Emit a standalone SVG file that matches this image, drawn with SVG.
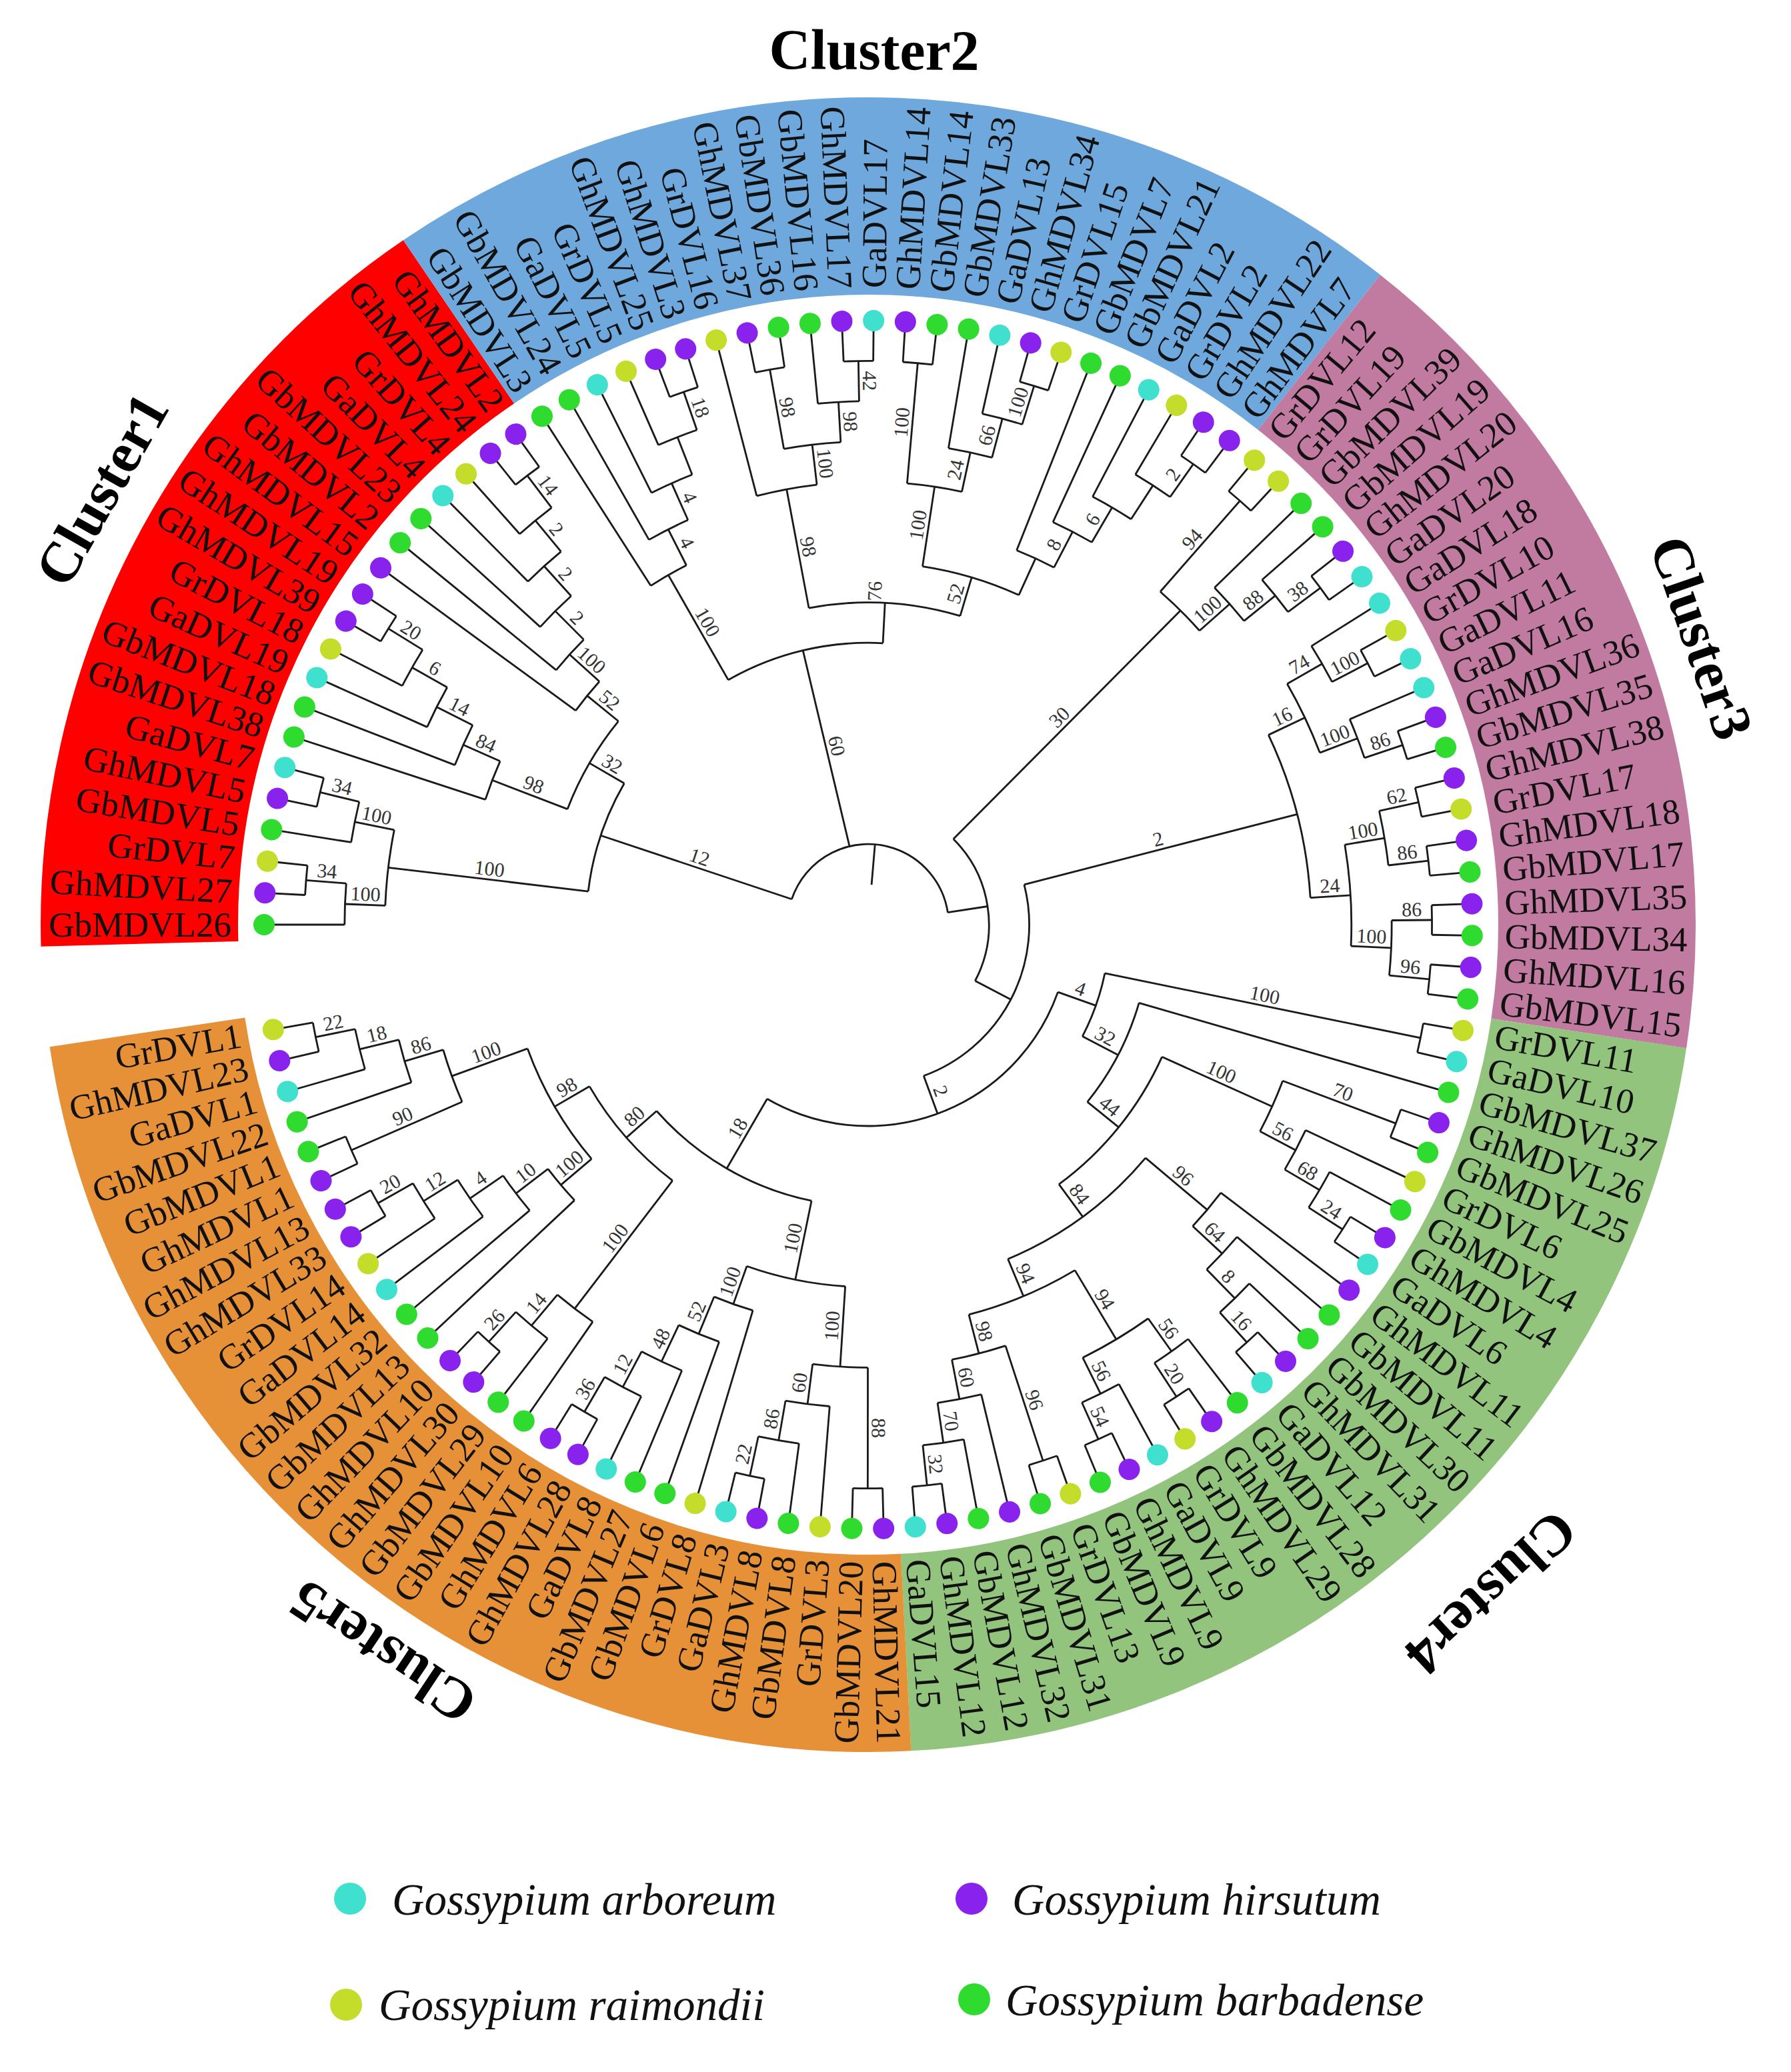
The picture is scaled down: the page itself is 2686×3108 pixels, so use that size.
<svg xmlns="http://www.w3.org/2000/svg" width="2686" height="3108" viewBox="0 0 2686 3108">
<style>
.r{transform:translate(1302px,1387px) rotate(calc(180deg + (var(--u) - 1) * 3.017241deg))}
.bl{transform:translate(1302px,1387px) rotate(calc(180deg + (var(--u) - 1) * 3.017241deg)) translate(calc(var(--m) * 1px),0px) rotate(180deg)}
.br{transform:translate(1302px,1387px) rotate(calc(180deg + (var(--u) - 1) * 3.017241deg)) translate(calc(var(--m) * 1px),0px)}
#bands circle{fill:none;stroke-width:296}
#connectors path,#connectors circle{fill:none;stroke:#1a1a1a;stroke-width:2.8}
#bootstrap text{font-family:"Liberation Serif",serif;font-size:30px;fill:#333;text-anchor:middle}
#leaves text{font-family:"Liberation Serif",serif;font-size:53px;fill:#111;dominant-baseline:central}
#leaves .L{text-anchor:end}
#leaves .R{text-anchor:start}
#legend text{font-family:"Liberation Serif",serif;font-style:italic;font-size:67px;fill:#111}
.ga{fill:#40E0CF}.gh{fill:#8A22EE}.gr{fill:#C3DD2A}.gb{fill:#2EDB2E}
.title{font-family:"Liberation Serif",serif;font-weight:bold;font-size:86px;fill:#000;text-anchor:middle;dominant-baseline:central}
</style>
<rect width="2686" height="3108" fill="#fff"/>
<g id="bands">
<circle class="r" style="--u:0.5" r="1093" stroke="#FF0000" stroke-dasharray="19 999" pathLength="119.3143"/>
<circle class="r" style="--u:19.5" r="1093" stroke="#6FA8DC" stroke-dasharray="24 999" pathLength="119.3143"/>
<circle class="r" style="--u:43.5" r="1093" stroke="#C27BA0" stroke-dasharray="20 999" pathLength="119.3143"/>
<circle class="r" style="--u:63.5" r="1093" stroke="#93C47D" stroke-dasharray="26 999" pathLength="119.3143"/>
<circle class="r" style="--u:89.5" r="1093" stroke="#E69138" stroke-dasharray="28 999" pathLength="119.3143"/>
</g>
<g id="titles">
<text class="title" transform="translate(1302 1387) rotate(209.6) translate(1322 0) rotate(90)">Cluster1</text>
<text class="title" transform="translate(1302 1387) rotate(270.4) translate(1312 0) rotate(90)">Cluster2</text>
<text class="title" transform="translate(1302 1387) rotate(341) translate(1322 0) rotate(90)">Cluster3</text>
<text class="title" transform="translate(1302 1387) rotate(47) translate(1370 0) rotate(90)">Cluster4</text>
<text class="title" transform="translate(1302 1387) rotate(123.7) translate(1312 0) rotate(90)">Cluster5</text>
</g>
<g id="connectors">
<circle class="r" style="--u:2" r="845.6" stroke-dasharray="1 999" pathLength="119.3143"/><path class="r" style="--u:2.5" d="M785.2 0H845.6"/>
<circle class="r" style="--u:1" r="785.2" stroke-dasharray="1.5 999" pathLength="119.3143"/><path class="r" style="--u:1.75" d="M724.8 0H785.2"/>
<circle class="r" style="--u:5" r="845.6" stroke-dasharray="1 999" pathLength="119.3143"/><path class="r" style="--u:5.5" d="M785.2 0H845.6"/>
<circle class="r" style="--u:4" r="785.2" stroke-dasharray="1.5 999" pathLength="119.3143"/><path class="r" style="--u:4.75" d="M724.8 0H785.2"/>
<circle class="r" style="--u:1.75" r="724.8" stroke-dasharray="3 999" pathLength="119.3143"/><path class="r" style="--u:3.25" d="M422.8 0H724.8"/>
<circle class="r" style="--u:11" r="845.6" stroke-dasharray="1 999" pathLength="119.3143"/><path class="r" style="--u:11.5" d="M785.2 0H845.6"/>
<circle class="r" style="--u:10" r="785.2" stroke-dasharray="1.5 999" pathLength="119.3143"/><path class="r" style="--u:10.75" d="M724.8 0H785.2"/>
<circle class="r" style="--u:9" r="724.8" stroke-dasharray="1.75 999" pathLength="119.3143"/><path class="r" style="--u:9.875" d="M664.4 0H724.8"/>
<circle class="r" style="--u:8" r="664.4" stroke-dasharray="1.875 999" pathLength="119.3143"/><path class="r" style="--u:8.9375" d="M604 0H664.4"/>
<circle class="r" style="--u:7" r="604" stroke-dasharray="1.9375 999" pathLength="119.3143"/><path class="r" style="--u:7.96875" d="M483.2 0H604"/>
<circle class="r" style="--u:18" r="845.6" stroke-dasharray="1 999" pathLength="119.3143"/><path class="r" style="--u:18.5" d="M785.2 0H845.6"/>
<circle class="r" style="--u:17" r="785.2" stroke-dasharray="1.5 999" pathLength="119.3143"/><path class="r" style="--u:17.75" d="M724.8 0H785.2"/>
<circle class="r" style="--u:16" r="724.8" stroke-dasharray="1.75 999" pathLength="119.3143"/><path class="r" style="--u:16.875" d="M664.4 0H724.8"/>
<circle class="r" style="--u:15" r="664.4" stroke-dasharray="1.875 999" pathLength="119.3143"/><path class="r" style="--u:15.9375" d="M604 0H664.4"/>
<circle class="r" style="--u:14" r="604" stroke-dasharray="1.9375 999" pathLength="119.3143"/><path class="r" style="--u:14.96875" d="M543.6 0H604"/>
<circle class="r" style="--u:13" r="543.6" stroke-dasharray="1.96875 999" pathLength="119.3143"/><path class="r" style="--u:13.984375" d="M483.2 0H543.6"/>
<circle class="r" style="--u:7.96875" r="483.2" stroke-dasharray="6.015625 999" pathLength="119.3143"/><path class="r" style="--u:10.9765625" d="M422.8 0H483.2"/>
<circle class="r" style="--u:3.25" r="422.8" stroke-dasharray="7.7265625 999" pathLength="119.3143"/><path class="r" style="--u:7.11328" d="M120.8 0H422.8"/>
<circle class="r" style="--u:24" r="845.6" stroke-dasharray="1 999" pathLength="119.3143"/><path class="r" style="--u:24.5" d="M785.2 0H845.6"/>
<circle class="r" style="--u:23" r="785.2" stroke-dasharray="1.5 999" pathLength="119.3143"/><path class="r" style="--u:23.75" d="M724.8 0H785.2"/>
<circle class="r" style="--u:22" r="724.8" stroke-dasharray="1.75 999" pathLength="119.3143"/><path class="r" style="--u:22.875" d="M664.4 0H724.8"/>
<circle class="r" style="--u:21" r="664.4" stroke-dasharray="1.875 999" pathLength="119.3143"/><path class="r" style="--u:21.9375" d="M604 0H664.4"/>
<circle class="r" style="--u:20" r="604" stroke-dasharray="1.9375 999" pathLength="119.3143"/><path class="r" style="--u:20.96875" d="M422.8 0H604"/>
<circle class="r" style="--u:27" r="845.6" stroke-dasharray="1 999" pathLength="119.3143"/><path class="r" style="--u:27.5" d="M724.8 0H845.6"/>
<circle class="r" style="--u:30" r="845.6" stroke-dasharray="1 999" pathLength="119.3143"/><path class="r" style="--u:30.5" d="M785.2 0H845.6"/>
<circle class="r" style="--u:29" r="785.2" stroke-dasharray="1.5 999" pathLength="119.3143"/><path class="r" style="--u:29.75" d="M724.8 0H785.2"/>
<circle class="r" style="--u:27.5" r="724.8" stroke-dasharray="2.25 999" pathLength="119.3143"/><path class="r" style="--u:28.625" d="M664.4 0H724.8"/>
<circle class="r" style="--u:26" r="664.4" stroke-dasharray="2.625 999" pathLength="119.3143"/><path class="r" style="--u:27.3125" d="M483.2 0H664.4"/>
<circle class="r" style="--u:32" r="845.6" stroke-dasharray="1 999" pathLength="119.3143"/><path class="r" style="--u:32.5" d="M664.4 0H845.6"/>
<circle class="r" style="--u:36" r="845.6" stroke-dasharray="1 999" pathLength="119.3143"/><path class="r" style="--u:36.5" d="M785.2 0H845.6"/>
<circle class="r" style="--u:35" r="785.2" stroke-dasharray="1.5 999" pathLength="119.3143"/><path class="r" style="--u:35.75" d="M724.8 0H785.2"/>
<circle class="r" style="--u:34" r="724.8" stroke-dasharray="1.75 999" pathLength="119.3143"/><path class="r" style="--u:34.875" d="M664.4 0H724.8"/>
<circle class="r" style="--u:32.5" r="664.4" stroke-dasharray="2.375 999" pathLength="119.3143"/><path class="r" style="--u:33.6875" d="M543.6 0H664.4"/>
<circle class="r" style="--u:42" r="845.6" stroke-dasharray="1 999" pathLength="119.3143"/><path class="r" style="--u:42.5" d="M785.2 0H845.6"/>
<circle class="r" style="--u:41" r="785.2" stroke-dasharray="1.5 999" pathLength="119.3143"/><path class="r" style="--u:41.75" d="M724.8 0H785.2"/>
<circle class="r" style="--u:40" r="724.8" stroke-dasharray="1.75 999" pathLength="119.3143"/><path class="r" style="--u:40.875" d="M664.4 0H724.8"/>
<circle class="r" style="--u:39" r="664.4" stroke-dasharray="1.875 999" pathLength="119.3143"/><path class="r" style="--u:39.9375" d="M604 0H664.4"/>
<circle class="r" style="--u:38" r="604" stroke-dasharray="1.9375 999" pathLength="119.3143"/><path class="r" style="--u:38.96875" d="M543.6 0H604"/>
<circle class="r" style="--u:33.6875" r="543.6" stroke-dasharray="5.28125 999" pathLength="119.3143"/><path class="r" style="--u:36.328125" d="M483.2 0H543.6"/>
<circle class="r" style="--u:27.3125" r="483.2" stroke-dasharray="9.015625 999" pathLength="119.3143"/><path class="r" style="--u:31.8203125" d="M422.8 0H483.2"/>
<circle class="r" style="--u:20.96875" r="422.8" stroke-dasharray="10.8515625 999" pathLength="119.3143"/><path class="r" style="--u:26.39453" d="M120.8 0H422.8"/>
<circle class="r" style="--u:44" r="845.6" stroke-dasharray="1 999" pathLength="119.3143"/><path class="r" style="--u:44.5" d="M664.4 0H845.6"/>
<circle class="r" style="--u:48" r="845.6" stroke-dasharray="1 999" pathLength="119.3143"/><path class="r" style="--u:48.5" d="M785.2 0H845.6"/>
<circle class="r" style="--u:47" r="785.2" stroke-dasharray="1.5 999" pathLength="119.3143"/><path class="r" style="--u:47.75" d="M724.8 0H785.2"/>
<circle class="r" style="--u:46" r="724.8" stroke-dasharray="1.75 999" pathLength="119.3143"/><path class="r" style="--u:46.875" d="M664.4 0H724.8"/>
<circle class="r" style="--u:44.5" r="664.4" stroke-dasharray="2.375 999" pathLength="119.3143"/><path class="r" style="--u:45.6875" d="M181.2 0H664.4"/>
<circle class="r" style="--u:51" r="845.6" stroke-dasharray="1 999" pathLength="119.3143"/><path class="r" style="--u:51.5" d="M785.2 0H845.6"/>
<circle class="r" style="--u:50" r="785.2" stroke-dasharray="1.5 999" pathLength="119.3143"/><path class="r" style="--u:50.75" d="M724.8 0H785.2"/>
<circle class="r" style="--u:54" r="845.6" stroke-dasharray="1 999" pathLength="119.3143"/><path class="r" style="--u:54.5" d="M785.2 0H845.6"/>
<circle class="r" style="--u:53" r="785.2" stroke-dasharray="1.5 999" pathLength="119.3143"/><path class="r" style="--u:53.75" d="M724.8 0H785.2"/>
<circle class="r" style="--u:50.75" r="724.8" stroke-dasharray="3 999" pathLength="119.3143"/><path class="r" style="--u:52.25" d="M664.4 0H724.8"/>
<circle class="r" style="--u:56" r="845.6" stroke-dasharray="1 999" pathLength="119.3143"/><path class="r" style="--u:56.5" d="M785.2 0H845.6"/>
<circle class="r" style="--u:58" r="845.6" stroke-dasharray="1 999" pathLength="119.3143"/><path class="r" style="--u:58.5" d="M785.2 0H845.6"/>
<circle class="r" style="--u:56.5" r="785.2" stroke-dasharray="2 999" pathLength="119.3143"/><path class="r" style="--u:57.5" d="M724.8 0H785.2"/>
<circle class="r" style="--u:60" r="845.6" stroke-dasharray="1 999" pathLength="119.3143"/><path class="r" style="--u:60.5" d="M785.2 0H845.6"/>
<circle class="r" style="--u:62" r="845.6" stroke-dasharray="1 999" pathLength="119.3143"/><path class="r" style="--u:62.5" d="M785.2 0H845.6"/>
<circle class="r" style="--u:60.5" r="785.2" stroke-dasharray="2 999" pathLength="119.3143"/><path class="r" style="--u:61.5" d="M724.8 0H785.2"/>
<circle class="r" style="--u:57.5" r="724.8" stroke-dasharray="4 999" pathLength="119.3143"/><path class="r" style="--u:59.5" d="M664.4 0H724.8"/>
<circle class="r" style="--u:52.25" r="664.4" stroke-dasharray="7.25 999" pathLength="119.3143"/><path class="r" style="--u:55.875" d="M241.6 0H664.4"/>
<circle class="r" style="--u:64" r="845.6" stroke-dasharray="1 999" pathLength="119.3143"/><path class="r" style="--u:64.5" d="M362.4 0H845.6"/>
<circle class="r" style="--u:67" r="845.6" stroke-dasharray="1 999" pathLength="119.3143"/><path class="r" style="--u:67.5" d="M664.4 0H845.6"/>
<circle class="r" style="--u:71" r="845.6" stroke-dasharray="1 999" pathLength="119.3143"/><path class="r" style="--u:71.5" d="M785.2 0H845.6"/>
<circle class="r" style="--u:70" r="785.2" stroke-dasharray="1.5 999" pathLength="119.3143"/><path class="r" style="--u:70.75" d="M724.8 0H785.2"/>
<circle class="r" style="--u:69" r="724.8" stroke-dasharray="1.75 999" pathLength="119.3143"/><path class="r" style="--u:69.875" d="M664.4 0H724.8"/>
<circle class="r" style="--u:67.5" r="664.4" stroke-dasharray="2.375 999" pathLength="119.3143"/><path class="r" style="--u:68.6875" d="M483.2 0H664.4"/>
<circle class="r" style="--u:76" r="845.6" stroke-dasharray="1 999" pathLength="119.3143"/><path class="r" style="--u:76.5" d="M785.2 0H845.6"/>
<circle class="r" style="--u:75" r="785.2" stroke-dasharray="1.5 999" pathLength="119.3143"/><path class="r" style="--u:75.75" d="M724.8 0H785.2"/>
<circle class="r" style="--u:74" r="724.8" stroke-dasharray="1.75 999" pathLength="119.3143"/><path class="r" style="--u:74.875" d="M664.4 0H724.8"/>
<circle class="r" style="--u:73" r="664.4" stroke-dasharray="1.875 999" pathLength="119.3143"/><path class="r" style="--u:73.9375" d="M543.6 0H664.4"/>
<circle class="r" style="--u:79" r="845.6" stroke-dasharray="1 999" pathLength="119.3143"/><path class="r" style="--u:79.5" d="M785.2 0H845.6"/>
<circle class="r" style="--u:78" r="785.2" stroke-dasharray="1.5 999" pathLength="119.3143"/><path class="r" style="--u:78.75" d="M724.8 0H785.2"/>
<circle class="r" style="--u:82" r="845.6" stroke-dasharray="1 999" pathLength="119.3143"/><path class="r" style="--u:82.5" d="M785.2 0H845.6"/>
<circle class="r" style="--u:81" r="785.2" stroke-dasharray="1.5 999" pathLength="119.3143"/><path class="r" style="--u:81.75" d="M724.8 0H785.2"/>
<circle class="r" style="--u:78.75" r="724.8" stroke-dasharray="3 999" pathLength="119.3143"/><path class="r" style="--u:80.25" d="M604 0H724.8"/>
<circle class="r" style="--u:84" r="845.6" stroke-dasharray="1 999" pathLength="119.3143"/><path class="r" style="--u:84.5" d="M664.4 0H845.6"/>
<circle class="r" style="--u:88" r="845.6" stroke-dasharray="1 999" pathLength="119.3143"/><path class="r" style="--u:88.5" d="M785.2 0H845.6"/>
<circle class="r" style="--u:87" r="785.2" stroke-dasharray="1.5 999" pathLength="119.3143"/><path class="r" style="--u:87.75" d="M724.8 0H785.2"/>
<circle class="r" style="--u:86" r="724.8" stroke-dasharray="1.75 999" pathLength="119.3143"/><path class="r" style="--u:86.875" d="M664.4 0H724.8"/>
<circle class="r" style="--u:84.5" r="664.4" stroke-dasharray="2.375 999" pathLength="119.3143"/><path class="r" style="--u:85.6875" d="M604 0H664.4"/>
<circle class="r" style="--u:80.25" r="604" stroke-dasharray="5.4375 999" pathLength="119.3143"/><path class="r" style="--u:82.96875" d="M543.6 0H604"/>
<circle class="r" style="--u:73.9375" r="543.6" stroke-dasharray="9.03125 999" pathLength="119.3143"/><path class="r" style="--u:78.453125" d="M483.2 0H543.6"/>
<circle class="r" style="--u:68.6875" r="483.2" stroke-dasharray="9.765625 999" pathLength="119.3143"/><path class="r" style="--u:73.5703125" d="M422.8 0H483.2"/>
<circle class="r" style="--u:66" r="422.8" stroke-dasharray="7.5703125 999" pathLength="119.3143"/><path class="r" style="--u:69.78515625" d="M362.4 0H422.8"/>
<circle class="r" style="--u:64.5" r="362.4" stroke-dasharray="5.28515625 999" pathLength="119.3143"/><path class="r" style="--u:67.142578" d="M302 0H362.4"/>
<circle class="r" style="--u:90" r="845.6" stroke-dasharray="1 999" pathLength="119.3143"/><path class="r" style="--u:90.5" d="M664.4 0H845.6"/>
<circle class="r" style="--u:94" r="845.6" stroke-dasharray="1 999" pathLength="119.3143"/><path class="r" style="--u:94.5" d="M785.2 0H845.6"/>
<circle class="r" style="--u:93" r="785.2" stroke-dasharray="1.5 999" pathLength="119.3143"/><path class="r" style="--u:93.75" d="M724.8 0H785.2"/>
<circle class="r" style="--u:92" r="724.8" stroke-dasharray="1.75 999" pathLength="119.3143"/><path class="r" style="--u:92.875" d="M664.4 0H724.8"/>
<circle class="r" style="--u:90.5" r="664.4" stroke-dasharray="2.375 999" pathLength="119.3143"/><path class="r" style="--u:91.6875" d="M543.6 0H664.4"/>
<circle class="r" style="--u:100" r="845.6" stroke-dasharray="1 999" pathLength="119.3143"/><path class="r" style="--u:100.5" d="M785.2 0H845.6"/>
<circle class="r" style="--u:99" r="785.2" stroke-dasharray="1.5 999" pathLength="119.3143"/><path class="r" style="--u:99.75" d="M724.8 0H785.2"/>
<circle class="r" style="--u:98" r="724.8" stroke-dasharray="1.75 999" pathLength="119.3143"/><path class="r" style="--u:98.875" d="M664.4 0H724.8"/>
<circle class="r" style="--u:97" r="664.4" stroke-dasharray="1.875 999" pathLength="119.3143"/><path class="r" style="--u:97.9375" d="M604 0H664.4"/>
<circle class="r" style="--u:96" r="604" stroke-dasharray="1.9375 999" pathLength="119.3143"/><path class="r" style="--u:96.96875" d="M543.6 0H604"/>
<circle class="r" style="--u:91.6875" r="543.6" stroke-dasharray="5.28125 999" pathLength="119.3143"/><path class="r" style="--u:94.328125" d="M422.8 0H543.6"/>
<circle class="r" style="--u:104" r="845.6" stroke-dasharray="1 999" pathLength="119.3143"/><path class="r" style="--u:104.5" d="M785.2 0H845.6"/>
<circle class="r" style="--u:103" r="785.2" stroke-dasharray="1.5 999" pathLength="119.3143"/><path class="r" style="--u:103.75" d="M724.8 0H785.2"/>
<circle class="r" style="--u:102" r="724.8" stroke-dasharray="1.75 999" pathLength="119.3143"/><path class="r" style="--u:102.875" d="M483.2 0H724.8"/>
<circle class="r" style="--u:110" r="845.6" stroke-dasharray="1 999" pathLength="119.3143"/><path class="r" style="--u:110.5" d="M785.2 0H845.6"/>
<circle class="r" style="--u:109" r="785.2" stroke-dasharray="1.5 999" pathLength="119.3143"/><path class="r" style="--u:109.75" d="M724.8 0H785.2"/>
<circle class="r" style="--u:108" r="724.8" stroke-dasharray="1.75 999" pathLength="119.3143"/><path class="r" style="--u:108.875" d="M664.4 0H724.8"/>
<circle class="r" style="--u:107" r="664.4" stroke-dasharray="1.875 999" pathLength="119.3143"/><path class="r" style="--u:107.9375" d="M604 0H664.4"/>
<circle class="r" style="--u:106" r="604" stroke-dasharray="1.9375 999" pathLength="119.3143"/><path class="r" style="--u:106.96875" d="M543.6 0H604"/>
<circle class="r" style="--u:112" r="845.6" stroke-dasharray="1 999" pathLength="119.3143"/><path class="r" style="--u:112.5" d="M664.4 0H845.6"/>
<circle class="r" style="--u:116" r="845.6" stroke-dasharray="1 999" pathLength="119.3143"/><path class="r" style="--u:116.5" d="M785.2 0H845.6"/>
<circle class="r" style="--u:115" r="785.2" stroke-dasharray="1.5 999" pathLength="119.3143"/><path class="r" style="--u:115.75" d="M724.8 0H785.2"/>
<circle class="r" style="--u:114" r="724.8" stroke-dasharray="1.75 999" pathLength="119.3143"/><path class="r" style="--u:114.875" d="M664.4 0H724.8"/>
<circle class="r" style="--u:112.5" r="664.4" stroke-dasharray="2.375 999" pathLength="119.3143"/><path class="r" style="--u:113.6875" d="M543.6 0H664.4"/>
<circle class="r" style="--u:106.96875" r="543.6" stroke-dasharray="6.71875 999" pathLength="119.3143"/><path class="r" style="--u:110.328125" d="M483.2 0H543.6"/>
<circle class="r" style="--u:102.875" r="483.2" stroke-dasharray="7.453125 999" pathLength="119.3143"/><path class="r" style="--u:106.6015625" d="M422.8 0H483.2"/>
<circle class="r" style="--u:94.328125" r="422.8" stroke-dasharray="12.2734375 999" pathLength="119.3143"/><path class="r" style="--u:100.46484" d="M302 0H422.8"/>
<circle class="r" style="--u:67.142578" r="302" stroke-dasharray="33.322262 999" pathLength="119.3143"/><path class="r" style="--u:83.80371" d="M241.6 0H302"/>
<circle class="r" style="--u:55.875" r="241.6" stroke-dasharray="27.92871 999" pathLength="119.3143"/><path class="r" style="--u:69.83936" d="M181.2 0H241.6"/>
<circle class="r" style="--u:45.6875" r="181.2" stroke-dasharray="24.15186 999" pathLength="119.3143"/><path class="r" style="--u:57.76343" d="M120.8 0H181.2"/>
<circle class="r" style="--u:7.11328" r="120.8" stroke-dasharray="50.65015 999" pathLength="119.3143"/><path class="r" style="--u:32.43835" d="M60 0H120.8"/>
<path class="r" style="--u:1" d="M785.2 0H906"/><path class="r" style="--u:2" d="M845.6 0H906"/><path class="r" style="--u:3" d="M845.6 0H906"/><path class="r" style="--u:4" d="M785.2 0H906"/><path class="r" style="--u:5" d="M845.6 0H906"/><path class="r" style="--u:6" d="M845.6 0H906"/><path class="r" style="--u:7" d="M604 0H906"/><path class="r" style="--u:8" d="M664.4 0H906"/><path class="r" style="--u:9" d="M724.8 0H906"/><path class="r" style="--u:10" d="M785.2 0H906"/>
<path class="r" style="--u:11" d="M845.6 0H906"/><path class="r" style="--u:12" d="M845.6 0H906"/><path class="r" style="--u:13" d="M543.6 0H906"/><path class="r" style="--u:14" d="M604 0H906"/><path class="r" style="--u:15" d="M664.4 0H906"/><path class="r" style="--u:16" d="M724.8 0H906"/><path class="r" style="--u:17" d="M785.2 0H906"/><path class="r" style="--u:18" d="M845.6 0H906"/><path class="r" style="--u:19" d="M845.6 0H906"/><path class="r" style="--u:20" d="M604 0H906"/>
<path class="r" style="--u:21" d="M664.4 0H906"/><path class="r" style="--u:22" d="M724.8 0H906"/><path class="r" style="--u:23" d="M785.2 0H906"/><path class="r" style="--u:24" d="M845.6 0H906"/><path class="r" style="--u:25" d="M845.6 0H906"/><path class="r" style="--u:26" d="M664.4 0H906"/><path class="r" style="--u:27" d="M845.6 0H906"/><path class="r" style="--u:28" d="M845.6 0H906"/><path class="r" style="--u:29" d="M785.2 0H906"/><path class="r" style="--u:30" d="M845.6 0H906"/>
<path class="r" style="--u:31" d="M845.6 0H906"/><path class="r" style="--u:32" d="M845.6 0H906"/><path class="r" style="--u:33" d="M845.6 0H906"/><path class="r" style="--u:34" d="M724.8 0H906"/><path class="r" style="--u:35" d="M785.2 0H906"/><path class="r" style="--u:36" d="M845.6 0H906"/><path class="r" style="--u:37" d="M845.6 0H906"/><path class="r" style="--u:38" d="M604 0H906"/><path class="r" style="--u:39" d="M664.4 0H906"/><path class="r" style="--u:40" d="M724.8 0H906"/>
<path class="r" style="--u:41" d="M785.2 0H906"/><path class="r" style="--u:42" d="M845.6 0H906"/><path class="r" style="--u:43" d="M845.6 0H906"/><path class="r" style="--u:44" d="M845.6 0H906"/><path class="r" style="--u:45" d="M845.6 0H906"/><path class="r" style="--u:46" d="M724.8 0H906"/><path class="r" style="--u:47" d="M785.2 0H906"/><path class="r" style="--u:48" d="M845.6 0H906"/><path class="r" style="--u:49" d="M845.6 0H906"/><path class="r" style="--u:50" d="M785.2 0H906"/>
<path class="r" style="--u:51" d="M845.6 0H906"/><path class="r" style="--u:52" d="M845.6 0H906"/><path class="r" style="--u:53" d="M785.2 0H906"/><path class="r" style="--u:54" d="M845.6 0H906"/><path class="r" style="--u:55" d="M845.6 0H906"/><path class="r" style="--u:56" d="M845.6 0H906"/><path class="r" style="--u:57" d="M845.6 0H906"/><path class="r" style="--u:58" d="M845.6 0H906"/><path class="r" style="--u:59" d="M845.6 0H906"/><path class="r" style="--u:60" d="M845.6 0H906"/>
<path class="r" style="--u:61" d="M845.6 0H906"/><path class="r" style="--u:62" d="M845.6 0H906"/><path class="r" style="--u:63" d="M845.6 0H906"/><path class="r" style="--u:64" d="M845.6 0H906"/><path class="r" style="--u:65" d="M845.6 0H906"/><path class="r" style="--u:66" d="M422.8 0H906"/><path class="r" style="--u:67" d="M845.6 0H906"/><path class="r" style="--u:68" d="M845.6 0H906"/><path class="r" style="--u:69" d="M724.8 0H906"/><path class="r" style="--u:70" d="M785.2 0H906"/>
<path class="r" style="--u:71" d="M845.6 0H906"/><path class="r" style="--u:72" d="M845.6 0H906"/><path class="r" style="--u:73" d="M664.4 0H906"/><path class="r" style="--u:74" d="M724.8 0H906"/><path class="r" style="--u:75" d="M785.2 0H906"/><path class="r" style="--u:76" d="M845.6 0H906"/><path class="r" style="--u:77" d="M845.6 0H906"/><path class="r" style="--u:78" d="M785.2 0H906"/><path class="r" style="--u:79" d="M845.6 0H906"/><path class="r" style="--u:80" d="M845.6 0H906"/>
<path class="r" style="--u:81" d="M785.2 0H906"/><path class="r" style="--u:82" d="M845.6 0H906"/><path class="r" style="--u:83" d="M845.6 0H906"/><path class="r" style="--u:84" d="M845.6 0H906"/><path class="r" style="--u:85" d="M845.6 0H906"/><path class="r" style="--u:86" d="M724.8 0H906"/><path class="r" style="--u:87" d="M785.2 0H906"/><path class="r" style="--u:88" d="M845.6 0H906"/><path class="r" style="--u:89" d="M845.6 0H906"/><path class="r" style="--u:90" d="M845.6 0H906"/>
<path class="r" style="--u:91" d="M845.6 0H906"/><path class="r" style="--u:92" d="M724.8 0H906"/><path class="r" style="--u:93" d="M785.2 0H906"/><path class="r" style="--u:94" d="M845.6 0H906"/><path class="r" style="--u:95" d="M845.6 0H906"/><path class="r" style="--u:96" d="M604 0H906"/><path class="r" style="--u:97" d="M664.4 0H906"/><path class="r" style="--u:98" d="M724.8 0H906"/><path class="r" style="--u:99" d="M785.2 0H906"/><path class="r" style="--u:100" d="M845.6 0H906"/>
<path class="r" style="--u:101" d="M845.6 0H906"/><path class="r" style="--u:102" d="M724.8 0H906"/><path class="r" style="--u:103" d="M785.2 0H906"/><path class="r" style="--u:104" d="M845.6 0H906"/><path class="r" style="--u:105" d="M845.6 0H906"/><path class="r" style="--u:106" d="M604 0H906"/><path class="r" style="--u:107" d="M664.4 0H906"/><path class="r" style="--u:108" d="M724.8 0H906"/><path class="r" style="--u:109" d="M785.2 0H906"/><path class="r" style="--u:110" d="M845.6 0H906"/>
<path class="r" style="--u:111" d="M845.6 0H906"/><path class="r" style="--u:112" d="M845.6 0H906"/><path class="r" style="--u:113" d="M845.6 0H906"/><path class="r" style="--u:114" d="M724.8 0H906"/><path class="r" style="--u:115" d="M785.2 0H906"/><path class="r" style="--u:116" d="M845.6 0H906"/><path class="r" style="--u:117" d="M845.6 0H906"/>
</g>
<g id="bootstrap">
<text class="bl" style="--u:2.5;--m:815.4" y="-6">34</text>
<text class="bl" style="--u:1.75;--m:755" y="-6">100</text>
<text class="bl" style="--u:5.5;--m:815.4" y="-6">34</text>
<text class="bl" style="--u:4.75;--m:755" y="-6">100</text>
<text class="bl" style="--u:3.25;--m:573.8" y="-6">100</text>
<text class="bl" style="--u:11.5;--m:815.4" y="-6">20</text>
<text class="bl" style="--u:10.75;--m:755" y="-6">6</text>
<text class="bl" style="--u:9.875;--m:694.6" y="-6">14</text>
<text class="bl" style="--u:8.9375;--m:634.2" y="-6">84</text>
<text class="bl" style="--u:7.96875;--m:543.6" y="-6">98</text>
<text class="bl" style="--u:18.5;--m:815.4" y="-6">14</text>
<text class="bl" style="--u:17.75;--m:755" y="-6">2</text>
<text class="bl" style="--u:16.875;--m:694.6" y="-6">2</text>
<text class="bl" style="--u:15.9375;--m:634.2" y="-6">2</text>
<text class="bl" style="--u:14.96875;--m:573.8" y="-6">100</text>
<text class="bl" style="--u:13.984375;--m:513.4" y="-6">52</text>
<text class="bl" style="--u:10.9765625;--m:453" y="-6">32</text>
<text class="bl" style="--u:7.11328;--m:271.8" y="-6">12</text>
<text class="bl" style="--u:24.5;--m:815.4" y="-6">18</text>
<text class="bl" style="--u:22.875;--m:694.6" y="-6">4</text>
<text class="bl" style="--u:21.9375;--m:634.2" y="-6">4</text>
<text class="bl" style="--u:20.96875;--m:513.4" y="-6">100</text>
<text class="bl" style="--u:27.5;--m:785.2" y="-6">98</text>
<text class="bl" style="--u:30.5;--m:815.4" y="-6">42</text>
<text class="bl" style="--u:29.75;--m:755" y="-6">98</text>
<text class="bl" style="--u:28.625;--m:694.6" y="-6">100</text>
<text class="bl" style="--u:27.3125;--m:573.8" y="-6">98</text>
<text class="br" style="--u:32.5;--m:755" y="-6">100</text>
<text class="br" style="--u:36.5;--m:815.4" y="-6">100</text>
<text class="br" style="--u:35.75;--m:755" y="-6">66</text>
<text class="br" style="--u:34.875;--m:694.6" y="-6">24</text>
<text class="br" style="--u:33.6875;--m:604" y="-6">100</text>
<text class="br" style="--u:42.5;--m:815.4" y="-6">2</text>
<text class="br" style="--u:40.875;--m:694.6" y="-6">6</text>
<text class="br" style="--u:39.9375;--m:634.2" y="-6">8</text>
<text class="br" style="--u:36.328125;--m:513.4" y="-6">52</text>
<text class="br" style="--u:31.8203125;--m:500" y="-6">76</text>
<text class="bl" style="--u:26.39453;--m:271.8" y="-6">60</text>
<text class="br" style="--u:44.5;--m:755" y="-6">94</text>
<text class="br" style="--u:48.5;--m:815.4" y="-6">38</text>
<text class="br" style="--u:47.75;--m:755" y="-6">88</text>
<text class="br" style="--u:46.875;--m:694.6" y="-6">100</text>
<text class="br" style="--u:45.6875;--m:422.8" y="-6">30</text>
<text class="br" style="--u:51.5;--m:815.4" y="-6">100</text>
<text class="br" style="--u:50.75;--m:755" y="-6">74</text>
<text class="br" style="--u:54.5;--m:815.4" y="-6">86</text>
<text class="br" style="--u:53.75;--m:755" y="-6">100</text>
<text class="br" style="--u:52.25;--m:694.6" y="-6">16</text>
<text class="br" style="--u:56.5;--m:815.4" y="-6">62</text>
<text class="br" style="--u:58.5;--m:815.4" y="-6">86</text>
<text class="br" style="--u:57.5;--m:755" y="-6">100</text>
<text class="br" style="--u:60.5;--m:815.4" y="-6">86</text>
<text class="br" style="--u:62.5;--m:815.4" y="-6">96</text>
<text class="br" style="--u:61.5;--m:755" y="-6">100</text>
<text class="br" style="--u:59.5;--m:694.6" y="-6">24</text>
<text class="br" style="--u:55.875;--m:453" y="-6">2</text>
<text class="br" style="--u:64.5;--m:604" y="-6">100</text>
<text class="br" style="--u:67.5;--m:755" y="-6">70</text>
<text class="br" style="--u:71.5;--m:815.4" y="-6">24</text>
<text class="br" style="--u:70.75;--m:755" y="-6">68</text>
<text class="br" style="--u:69.875;--m:694.6" y="-6">56</text>
<text class="br" style="--u:68.6875;--m:573.8" y="-6">100</text>
<text class="br" style="--u:76.5;--m:815.4" y="-6">16</text>
<text class="br" style="--u:75.75;--m:755" y="-6">8</text>
<text class="br" style="--u:74.875;--m:694.6" y="-6">64</text>
<text class="br" style="--u:73.9375;--m:604" y="-6">96</text>
<text class="br" style="--u:79.5;--m:815.4" y="-6">20</text>
<text class="br" style="--u:78.75;--m:755" y="-6">56</text>
<text class="br" style="--u:82.5;--m:815.4" y="-6">54</text>
<text class="br" style="--u:81.75;--m:755" y="-6">56</text>
<text class="br" style="--u:80.25;--m:664.4" y="-6">94</text>
<text class="br" style="--u:84.5;--m:755" y="-6">96</text>
<text class="br" style="--u:88.5;--m:815.4" y="-6">32</text>
<text class="br" style="--u:87.75;--m:755" y="-6">70</text>
<text class="br" style="--u:86.875;--m:694.6" y="-6">60</text>
<text class="br" style="--u:85.6875;--m:634.2" y="-6">98</text>
<text class="br" style="--u:82.96875;--m:573.8" y="-6">94</text>
<text class="br" style="--u:78.453125;--m:513.4" y="-6">84</text>
<text class="br" style="--u:73.5703125;--m:453" y="-6">44</text>
<text class="br" style="--u:69.78515625;--m:392.6" y="-6">32</text>
<text class="br" style="--u:67.142578;--m:332.2" y="-6">4</text>
<text class="br" style="--u:90.5;--m:755" y="-6">88</text>
<text class="bl" style="--u:94.5;--m:815.4" y="-6">22</text>
<text class="bl" style="--u:93.75;--m:755" y="-6">86</text>
<text class="bl" style="--u:92.875;--m:694.6" y="-6">60</text>
<text class="bl" style="--u:91.6875;--m:604" y="-6">100</text>
<text class="bl" style="--u:100.5;--m:815.4" y="-6">36</text>
<text class="bl" style="--u:99.75;--m:755" y="-6">12</text>
<text class="bl" style="--u:98.875;--m:694.6" y="-6">48</text>
<text class="bl" style="--u:97.9375;--m:634.2" y="-6">52</text>
<text class="bl" style="--u:96.96875;--m:573.8" y="-6">100</text>
<text class="bl" style="--u:94.328125;--m:483.2" y="-6">100</text>
<text class="bl" style="--u:104.5;--m:815.4" y="-6">26</text>
<text class="bl" style="--u:103.75;--m:755" y="-6">14</text>
<text class="bl" style="--u:102.875;--m:604" y="-6">100</text>
<text class="bl" style="--u:110.5;--m:815.4" y="-6">20</text>
<text class="bl" style="--u:109.75;--m:755" y="-6">12</text>
<text class="bl" style="--u:108.875;--m:694.6" y="-6">4</text>
<text class="bl" style="--u:107.9375;--m:634.2" y="-6">10</text>
<text class="bl" style="--u:106.96875;--m:573.8" y="-6">100</text>
<text class="bl" style="--u:112.5;--m:755" y="-6">90</text>
<text class="bl" style="--u:116.5;--m:815.4" y="-6">22</text>
<text class="bl" style="--u:115.75;--m:755" y="-6">18</text>
<text class="bl" style="--u:114.875;--m:694.6" y="-6">86</text>
<text class="bl" style="--u:113.6875;--m:604" y="-6">100</text>
<text class="bl" style="--u:110.328125;--m:513.4" y="-6">98</text>
<text class="bl" style="--u:106.6015625;--m:453" y="-6">80</text>
<text class="bl" style="--u:100.46484;--m:362.4" y="-6">18</text>
<text class="br" style="--u:83.80371;--m:271.8" y="-6">2</text>
</g>
<g id="leaves">
<g id="leaf-GbMDVL26" class="r" style="--u:1"><circle cx="906" r="16" class="gb"/><text class="L" transform="translate(955 0) rotate(180)">GbMDVL26</text></g>
<g id="leaf-GhMDVL27" class="r" style="--u:2"><circle cx="906" r="16" class="gh"/><text class="L" transform="translate(955 0) rotate(180)">GhMDVL27</text></g>
<g id="leaf-GrDVL7" class="r" style="--u:3"><circle cx="906" r="16" class="gr"/><text class="L" transform="translate(955 0) rotate(180)">GrDVL7</text></g>
<g id="leaf-GbMDVL5" class="r" style="--u:4"><circle cx="906" r="16" class="gb"/><text class="L" transform="translate(955 0) rotate(180)">GbMDVL5</text></g>
<g id="leaf-GhMDVL5" class="r" style="--u:5"><circle cx="906" r="16" class="gh"/><text class="L" transform="translate(955 0) rotate(180)">GhMDVL5</text></g>
<g id="leaf-GaDVL7" class="r" style="--u:6"><circle cx="906" r="16" class="ga"/><text class="L" transform="translate(955 0) rotate(180)">GaDVL7</text></g>
<g id="leaf-GbMDVL38" class="r" style="--u:7"><circle cx="906" r="16" class="gb"/><text class="L" transform="translate(955 0) rotate(180)">GbMDVL38</text></g>
<g id="leaf-GbMDVL18" class="r" style="--u:8"><circle cx="906" r="16" class="gb"/><text class="L" transform="translate(955 0) rotate(180)">GbMDVL18</text></g>
<g id="leaf-GaDVL19" class="r" style="--u:9"><circle cx="906" r="16" class="ga"/><text class="L" transform="translate(955 0) rotate(180)">GaDVL19</text></g>
<g id="leaf-GrDVL18" class="r" style="--u:10"><circle cx="906" r="16" class="gr"/><text class="L" transform="translate(955 0) rotate(180)">GrDVL18</text></g>
<g id="leaf-GhMDVL39" class="r" style="--u:11"><circle cx="906" r="16" class="gh"/><text class="L" transform="translate(955 0) rotate(180)">GhMDVL39</text></g>
<g id="leaf-GhMDVL19" class="r" style="--u:12"><circle cx="906" r="16" class="gh"/><text class="L" transform="translate(955 0) rotate(180)">GhMDVL19</text></g>
<g id="leaf-GhMDVL15" class="r" style="--u:13"><circle cx="906" r="16" class="gh"/><text class="L" transform="translate(955 0) rotate(180)">GhMDVL15</text></g>
<g id="leaf-GbMDVL2" class="r" style="--u:14"><circle cx="906" r="16" class="gb"/><text class="L" transform="translate(955 0) rotate(180)">GbMDVL2</text></g>
<g id="leaf-GbMDVL23" class="r" style="--u:15"><circle cx="906" r="16" class="gb"/><text class="L" transform="translate(955 0) rotate(180)">GbMDVL23</text></g>
<g id="leaf-GaDVL4" class="r" style="--u:16"><circle cx="906" r="16" class="ga"/><text class="L" transform="translate(955 0) rotate(180)">GaDVL4</text></g>
<g id="leaf-GrDVL4" class="r" style="--u:17"><circle cx="906" r="16" class="gr"/><text class="L" transform="translate(955 0) rotate(180)">GrDVL4</text></g>
<g id="leaf-GhMDVL24" class="r" style="--u:18"><circle cx="906" r="16" class="gh"/><text class="L" transform="translate(955 0) rotate(180)">GhMDVL24</text></g>
<g id="leaf-GhMDVL2" class="r" style="--u:19"><circle cx="906" r="16" class="gh"/><text class="L" transform="translate(955 0) rotate(180)">GhMDVL2</text></g>
<g id="leaf-GbMDVL3" class="r" style="--u:20"><circle cx="906" r="16" class="gb"/><text class="L" transform="translate(955 0) rotate(180)">GbMDVL3</text></g>
<g id="leaf-GbMDVL24" class="r" style="--u:21"><circle cx="906" r="16" class="gb"/><text class="L" transform="translate(955 0) rotate(180)">GbMDVL24</text></g>
<g id="leaf-GaDVL5" class="r" style="--u:22"><circle cx="906" r="16" class="ga"/><text class="L" transform="translate(955 0) rotate(180)">GaDVL5</text></g>
<g id="leaf-GrDVL5" class="r" style="--u:23"><circle cx="906" r="16" class="gr"/><text class="L" transform="translate(955 0) rotate(180)">GrDVL5</text></g>
<g id="leaf-GhMDVL25" class="r" style="--u:24"><circle cx="906" r="16" class="gh"/><text class="L" transform="translate(955 0) rotate(180)">GhMDVL25</text></g>
<g id="leaf-GhMDVL3" class="r" style="--u:25"><circle cx="906" r="16" class="gh"/><text class="L" transform="translate(955 0) rotate(180)">GhMDVL3</text></g>
<g id="leaf-GrDVL16" class="r" style="--u:26"><circle cx="906" r="16" class="gr"/><text class="L" transform="translate(955 0) rotate(180)">GrDVL16</text></g>
<g id="leaf-GhMDVL37" class="r" style="--u:27"><circle cx="906" r="16" class="gh"/><text class="L" transform="translate(955 0) rotate(180)">GhMDVL37</text></g>
<g id="leaf-GbMDVL36" class="r" style="--u:28"><circle cx="906" r="16" class="gb"/><text class="L" transform="translate(955 0) rotate(180)">GbMDVL36</text></g>
<g id="leaf-GbMDVL16" class="r" style="--u:29"><circle cx="906" r="16" class="gb"/><text class="L" transform="translate(955 0) rotate(180)">GbMDVL16</text></g>
<g id="leaf-GhMDVL17" class="r" style="--u:30"><circle cx="906" r="16" class="gh"/><text class="L" transform="translate(955 0) rotate(180)">GhMDVL17</text></g>
<g id="leaf-GaDVL17" class="r" style="--u:31"><circle cx="906" r="16" class="ga"/><text class="R" x="955">GaDVL17</text></g>
<g id="leaf-GhMDVL14" class="r" style="--u:32"><circle cx="906" r="16" class="gh"/><text class="R" x="955">GhMDVL14</text></g>
<g id="leaf-GbMDVL14" class="r" style="--u:33"><circle cx="906" r="16" class="gb"/><text class="R" x="955">GbMDVL14</text></g>
<g id="leaf-GbMDVL33" class="r" style="--u:34"><circle cx="906" r="16" class="gb"/><text class="R" x="955">GbMDVL33</text></g>
<g id="leaf-GaDVL13" class="r" style="--u:35"><circle cx="906" r="16" class="ga"/><text class="R" x="955">GaDVL13</text></g>
<g id="leaf-GhMDVL34" class="r" style="--u:36"><circle cx="906" r="16" class="gh"/><text class="R" x="955">GhMDVL34</text></g>
<g id="leaf-GrDVL15" class="r" style="--u:37"><circle cx="906" r="16" class="gr"/><text class="R" x="955">GrDVL15</text></g>
<g id="leaf-GbMDVL7" class="r" style="--u:38"><circle cx="906" r="16" class="gb"/><text class="R" x="955">GbMDVL7</text></g>
<g id="leaf-GbMDVL21" class="r" style="--u:39"><circle cx="906" r="16" class="gb"/><text class="R" x="955">GbMDVL21</text></g>
<g id="leaf-GaDVL2" class="r" style="--u:40"><circle cx="906" r="16" class="ga"/><text class="R" x="955">GaDVL2</text></g>
<g id="leaf-GrDVL2" class="r" style="--u:41"><circle cx="906" r="16" class="gr"/><text class="R" x="955">GrDVL2</text></g>
<g id="leaf-GhMDVL22" class="r" style="--u:42"><circle cx="906" r="16" class="gh"/><text class="R" x="955">GhMDVL22</text></g>
<g id="leaf-GhMDVL7" class="r" style="--u:43"><circle cx="906" r="16" class="gh"/><text class="R" x="955">GhMDVL7</text></g>
<g id="leaf-GrDVL12" class="r" style="--u:44"><circle cx="906" r="16" class="gr"/><text class="R" x="955">GrDVL12</text></g>
<g id="leaf-GrDVL19" class="r" style="--u:45"><circle cx="906" r="16" class="gr"/><text class="R" x="955">GrDVL19</text></g>
<g id="leaf-GbMDVL39" class="r" style="--u:46"><circle cx="906" r="16" class="gb"/><text class="R" x="955">GbMDVL39</text></g>
<g id="leaf-GbMDVL19" class="r" style="--u:47"><circle cx="906" r="16" class="gb"/><text class="R" x="955">GbMDVL19</text></g>
<g id="leaf-GhMDVL20" class="r" style="--u:48"><circle cx="906" r="16" class="gh"/><text class="R" x="955">GhMDVL20</text></g>
<g id="leaf-GaDVL20" class="r" style="--u:49"><circle cx="906" r="16" class="ga"/><text class="R" x="955">GaDVL20</text></g>
<g id="leaf-GaDVL18" class="r" style="--u:50"><circle cx="906" r="16" class="ga"/><text class="R" x="955">GaDVL18</text></g>
<g id="leaf-GrDVL10" class="r" style="--u:51"><circle cx="906" r="16" class="gr"/><text class="R" x="955">GrDVL10</text></g>
<g id="leaf-GaDVL11" class="r" style="--u:52"><circle cx="906" r="16" class="ga"/><text class="R" x="955">GaDVL11</text></g>
<g id="leaf-GaDVL16" class="r" style="--u:53"><circle cx="906" r="16" class="ga"/><text class="R" x="955">GaDVL16</text></g>
<g id="leaf-GhMDVL36" class="r" style="--u:54"><circle cx="906" r="16" class="gh"/><text class="R" x="955">GhMDVL36</text></g>
<g id="leaf-GbMDVL35" class="r" style="--u:55"><circle cx="906" r="16" class="gb"/><text class="R" x="955">GbMDVL35</text></g>
<g id="leaf-GhMDVL38" class="r" style="--u:56"><circle cx="906" r="16" class="gh"/><text class="R" x="955">GhMDVL38</text></g>
<g id="leaf-GrDVL17" class="r" style="--u:57"><circle cx="906" r="16" class="gr"/><text class="R" x="955">GrDVL17</text></g>
<g id="leaf-GhMDVL18" class="r" style="--u:58"><circle cx="906" r="16" class="gh"/><text class="R" x="955">GhMDVL18</text></g>
<g id="leaf-GbMDVL17" class="r" style="--u:59"><circle cx="906" r="16" class="gb"/><text class="R" x="955">GbMDVL17</text></g>
<g id="leaf-GhMDVL35" class="r" style="--u:60"><circle cx="906" r="16" class="gh"/><text class="R" x="955">GhMDVL35</text></g>
<g id="leaf-GbMDVL34" class="r" style="--u:61"><circle cx="906" r="16" class="gb"/><text class="R" x="955">GbMDVL34</text></g>
<g id="leaf-GhMDVL16" class="r" style="--u:62"><circle cx="906" r="16" class="gh"/><text class="R" x="955">GhMDVL16</text></g>
<g id="leaf-GbMDVL15" class="r" style="--u:63"><circle cx="906" r="16" class="gb"/><text class="R" x="955">GbMDVL15</text></g>
<g id="leaf-GrDVL11" class="r" style="--u:64"><circle cx="906" r="16" class="gr"/><text class="R" x="955">GrDVL11</text></g>
<g id="leaf-GaDVL10" class="r" style="--u:65"><circle cx="906" r="16" class="ga"/><text class="R" x="955">GaDVL10</text></g>
<g id="leaf-GbMDVL37" class="r" style="--u:66"><circle cx="906" r="16" class="gb"/><text class="R" x="955">GbMDVL37</text></g>
<g id="leaf-GhMDVL26" class="r" style="--u:67"><circle cx="906" r="16" class="gh"/><text class="R" x="955">GhMDVL26</text></g>
<g id="leaf-GbMDVL25" class="r" style="--u:68"><circle cx="906" r="16" class="gb"/><text class="R" x="955">GbMDVL25</text></g>
<g id="leaf-GrDVL6" class="r" style="--u:69"><circle cx="906" r="16" class="gr"/><text class="R" x="955">GrDVL6</text></g>
<g id="leaf-GbMDVL4" class="r" style="--u:70"><circle cx="906" r="16" class="gb"/><text class="R" x="955">GbMDVL4</text></g>
<g id="leaf-GhMDVL4" class="r" style="--u:71"><circle cx="906" r="16" class="gh"/><text class="R" x="955">GhMDVL4</text></g>
<g id="leaf-GaDVL6" class="r" style="--u:72"><circle cx="906" r="16" class="ga"/><text class="R" x="955">GaDVL6</text></g>
<g id="leaf-GhMDVL11" class="r" style="--u:73"><circle cx="906" r="16" class="gh"/><text class="R" x="955">GhMDVL11</text></g>
<g id="leaf-GbMDVL11" class="r" style="--u:74"><circle cx="906" r="16" class="gb"/><text class="R" x="955">GbMDVL11</text></g>
<g id="leaf-GbMDVL30" class="r" style="--u:75"><circle cx="906" r="16" class="gb"/><text class="R" x="955">GbMDVL30</text></g>
<g id="leaf-GhMDVL31" class="r" style="--u:76"><circle cx="906" r="16" class="gh"/><text class="R" x="955">GhMDVL31</text></g>
<g id="leaf-GaDVL12" class="r" style="--u:77"><circle cx="906" r="16" class="ga"/><text class="R" x="955">GaDVL12</text></g>
<g id="leaf-GbMDVL28" class="r" style="--u:78"><circle cx="906" r="16" class="gb"/><text class="R" x="955">GbMDVL28</text></g>
<g id="leaf-GhMDVL29" class="r" style="--u:79"><circle cx="906" r="16" class="gh"/><text class="R" x="955">GhMDVL29</text></g>
<g id="leaf-GrDVL9" class="r" style="--u:80"><circle cx="906" r="16" class="gr"/><text class="R" x="955">GrDVL9</text></g>
<g id="leaf-GaDVL9" class="r" style="--u:81"><circle cx="906" r="16" class="ga"/><text class="R" x="955">GaDVL9</text></g>
<g id="leaf-GhMDVL9" class="r" style="--u:82"><circle cx="906" r="16" class="gh"/><text class="R" x="955">GhMDVL9</text></g>
<g id="leaf-GbMDVL9" class="r" style="--u:83"><circle cx="906" r="16" class="gb"/><text class="R" x="955">GbMDVL9</text></g>
<g id="leaf-GrDVL13" class="r" style="--u:84"><circle cx="906" r="16" class="gr"/><text class="R" x="955">GrDVL13</text></g>
<g id="leaf-GbMDVL31" class="r" style="--u:85"><circle cx="906" r="16" class="gb"/><text class="R" x="955">GbMDVL31</text></g>
<g id="leaf-GhMDVL32" class="r" style="--u:86"><circle cx="906" r="16" class="gh"/><text class="R" x="955">GhMDVL32</text></g>
<g id="leaf-GbMDVL12" class="r" style="--u:87"><circle cx="906" r="16" class="gb"/><text class="R" x="955">GbMDVL12</text></g>
<g id="leaf-GhMDVL12" class="r" style="--u:88"><circle cx="906" r="16" class="gh"/><text class="R" x="955">GhMDVL12</text></g>
<g id="leaf-GaDVL15" class="r" style="--u:89"><circle cx="906" r="16" class="ga"/><text class="R" x="955">GaDVL15</text></g>
<g id="leaf-GhMDVL21" class="r" style="--u:90"><circle cx="906" r="16" class="gh"/><text class="R" x="955">GhMDVL21</text></g>
<g id="leaf-GbMDVL20" class="r" style="--u:91"><circle cx="906" r="16" class="gb"/><text class="L" transform="translate(955 0) rotate(180)">GbMDVL20</text></g>
<g id="leaf-GrDVL3" class="r" style="--u:92"><circle cx="906" r="16" class="gr"/><text class="L" transform="translate(955 0) rotate(180)">GrDVL3</text></g>
<g id="leaf-GbMDVL8" class="r" style="--u:93"><circle cx="906" r="16" class="gb"/><text class="L" transform="translate(955 0) rotate(180)">GbMDVL8</text></g>
<g id="leaf-GhMDVL8" class="r" style="--u:94"><circle cx="906" r="16" class="gh"/><text class="L" transform="translate(955 0) rotate(180)">GhMDVL8</text></g>
<g id="leaf-GaDVL3" class="r" style="--u:95"><circle cx="906" r="16" class="ga"/><text class="L" transform="translate(955 0) rotate(180)">GaDVL3</text></g>
<g id="leaf-GrDVL8" class="r" style="--u:96"><circle cx="906" r="16" class="gr"/><text class="L" transform="translate(955 0) rotate(180)">GrDVL8</text></g>
<g id="leaf-GbMDVL6" class="r" style="--u:97"><circle cx="906" r="16" class="gb"/><text class="L" transform="translate(955 0) rotate(180)">GbMDVL6</text></g>
<g id="leaf-GbMDVL27" class="r" style="--u:98"><circle cx="906" r="16" class="gb"/><text class="L" transform="translate(955 0) rotate(180)">GbMDVL27</text></g>
<g id="leaf-GaDVL8" class="r" style="--u:99"><circle cx="906" r="16" class="ga"/><text class="L" transform="translate(955 0) rotate(180)">GaDVL8</text></g>
<g id="leaf-GhMDVL28" class="r" style="--u:100"><circle cx="906" r="16" class="gh"/><text class="L" transform="translate(955 0) rotate(180)">GhMDVL28</text></g>
<g id="leaf-GhMDVL6" class="r" style="--u:101"><circle cx="906" r="16" class="gh"/><text class="L" transform="translate(955 0) rotate(180)">GhMDVL6</text></g>
<g id="leaf-GbMDVL10" class="r" style="--u:102"><circle cx="906" r="16" class="gb"/><text class="L" transform="translate(955 0) rotate(180)">GbMDVL10</text></g>
<g id="leaf-GbMDVL29" class="r" style="--u:103"><circle cx="906" r="16" class="gb"/><text class="L" transform="translate(955 0) rotate(180)">GbMDVL29</text></g>
<g id="leaf-GhMDVL30" class="r" style="--u:104"><circle cx="906" r="16" class="gh"/><text class="L" transform="translate(955 0) rotate(180)">GhMDVL30</text></g>
<g id="leaf-GhMDVL10" class="r" style="--u:105"><circle cx="906" r="16" class="gh"/><text class="L" transform="translate(955 0) rotate(180)">GhMDVL10</text></g>
<g id="leaf-GbMDVL13" class="r" style="--u:106"><circle cx="906" r="16" class="gb"/><text class="L" transform="translate(955 0) rotate(180)">GbMDVL13</text></g>
<g id="leaf-GbMDVL32" class="r" style="--u:107"><circle cx="906" r="16" class="gb"/><text class="L" transform="translate(955 0) rotate(180)">GbMDVL32</text></g>
<g id="leaf-GaDVL14" class="r" style="--u:108"><circle cx="906" r="16" class="ga"/><text class="L" transform="translate(955 0) rotate(180)">GaDVL14</text></g>
<g id="leaf-GrDVL14" class="r" style="--u:109"><circle cx="906" r="16" class="gr"/><text class="L" transform="translate(955 0) rotate(180)">GrDVL14</text></g>
<g id="leaf-GhMDVL33" class="r" style="--u:110"><circle cx="906" r="16" class="gh"/><text class="L" transform="translate(955 0) rotate(180)">GhMDVL33</text></g>
<g id="leaf-GhMDVL13" class="r" style="--u:111"><circle cx="906" r="16" class="gh"/><text class="L" transform="translate(955 0) rotate(180)">GhMDVL13</text></g>
<g id="leaf-GhMDVL1" class="r" style="--u:112"><circle cx="906" r="16" class="gh"/><text class="L" transform="translate(955 0) rotate(180)">GhMDVL1</text></g>
<g id="leaf-GbMDVL1" class="r" style="--u:113"><circle cx="906" r="16" class="gb"/><text class="L" transform="translate(955 0) rotate(180)">GbMDVL1</text></g>
<g id="leaf-GbMDVL22" class="r" style="--u:114"><circle cx="906" r="16" class="gb"/><text class="L" transform="translate(955 0) rotate(180)">GbMDVL22</text></g>
<g id="leaf-GaDVL1" class="r" style="--u:115"><circle cx="906" r="16" class="ga"/><text class="L" transform="translate(955 0) rotate(180)">GaDVL1</text></g>
<g id="leaf-GhMDVL23" class="r" style="--u:116"><circle cx="906" r="16" class="gh"/><text class="L" transform="translate(955 0) rotate(180)">GhMDVL23</text></g>
<g id="leaf-GrDVL1" class="r" style="--u:117"><circle cx="906" r="16" class="gr"/><text class="L" transform="translate(955 0) rotate(180)">GrDVL1</text></g>
</g>
<g id="legend">
<g id="legend-arboreum"><circle cx="525" cy="2848" r="24" class="ga"/><text x="588" y="2872">Gossypium arboreum</text></g>
<g id="legend-hirsutum"><circle cx="1457" cy="2848" r="24" class="gh"/><text x="1518" y="2872">Gossypium hirsutum</text></g>
<g id="legend-raimondii"><circle cx="519" cy="3007" r="24" class="gr"/><text x="568" y="3030">Gossypium raimondii</text></g>
<g id="legend-barbadense"><circle cx="1461" cy="2999" r="24" class="gb"/><text x="1508" y="3023">Gossypium barbadense</text></g>
</g>
</svg>
